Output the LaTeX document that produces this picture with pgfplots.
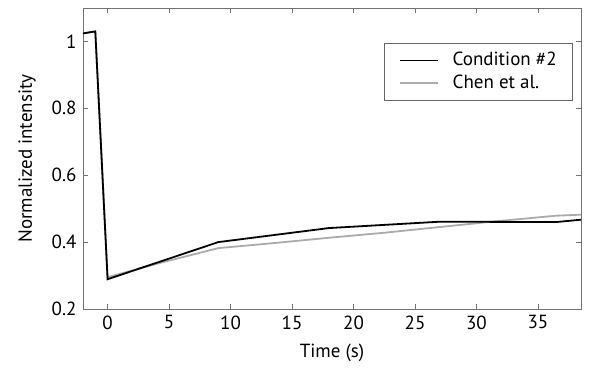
\documentclass[border=0pt]{standalone}
\usepackage{pgfplots}
\pgfplotsset{compat=1.18}
\usepackage{fontspec}
\setmainfont{PT Sans}
\begin{document}
\begin{tikzpicture}[x=1pt,y=1pt]
\fontsize{19}{23}\selectfont
\path[use as bounding box] (-83,-65) rectangle (514,309);
\begin{axis}[
  at={(0,0)}, anchor=south west,
  scale only axis, width=498pt, height=301pt,
  xmin=-2, xmax=38.5, ymin=0.2, ymax=1.1,
  xtick={0,5,...,35}, ytick={0.2,0.4,...,1.0},
  yticklabels={0.2,0.4,0.6,0.8,1},
  tick align=inside, tick pos=both,
  major tick length=5pt,
  axis line style={draw=black!55, line width=0.9pt},
  tick style={draw=black!55, line width=0.9pt},
  /pgf/number format/assume math mode=true,
  ticklabel style={font=\fontsize{19}{23}\selectfont},
  xlabel={Time (s)}, ylabel={Normalized intensity},
  label style={font=\fontsize{19}{23}\selectfont},
  xlabel style={yshift=-2pt},
  ylabel style={yshift=3pt},
  legend style={at={(axis description cs:0.984,0.884)}, anchor=north east,
    draw=black!60, line width=0.8pt, font=\fontsize{19}{23}\selectfont,
    inner xsep=14pt, inner ysep=7pt, row sep=2pt,
    nodes={inner sep=2pt}},
  /tikz/every odd column/.append style={column sep=12pt},
  legend cell align=left,
  legend image code/.code={\draw[#1] (0pt,0pt) -- (38pt,0pt);},
]
\addlegendimage{black, line width=1.8pt}
\addlegendimage{black!33, line width=1.6pt}
% Chen et al. reference curve (drawn first so it sits underneath)
\addplot[black!33, line width=1.8pt, forget plot] coordinates {
  (-2,1.024) (-1,1.03) (0,0.295) (4.5,0.34) (9,0.382) (13.5,0.397) (18,0.413)
  (22.5,0.428) (27,0.445) (31.5,0.462) (36.5,0.479) (38.5,0.482)};
% Condition #2
\addplot[black, line width=1.8pt, forget plot] coordinates {
  (-2,1.024) (-1,1.03) (0,0.289) (9,0.40) (18,0.442) (27,0.461)
  (36.5,0.46) (38.5,0.467)};
\legend{Condition \#2, Chen et al.}
\end{axis}
\end{tikzpicture}
\end{document}
